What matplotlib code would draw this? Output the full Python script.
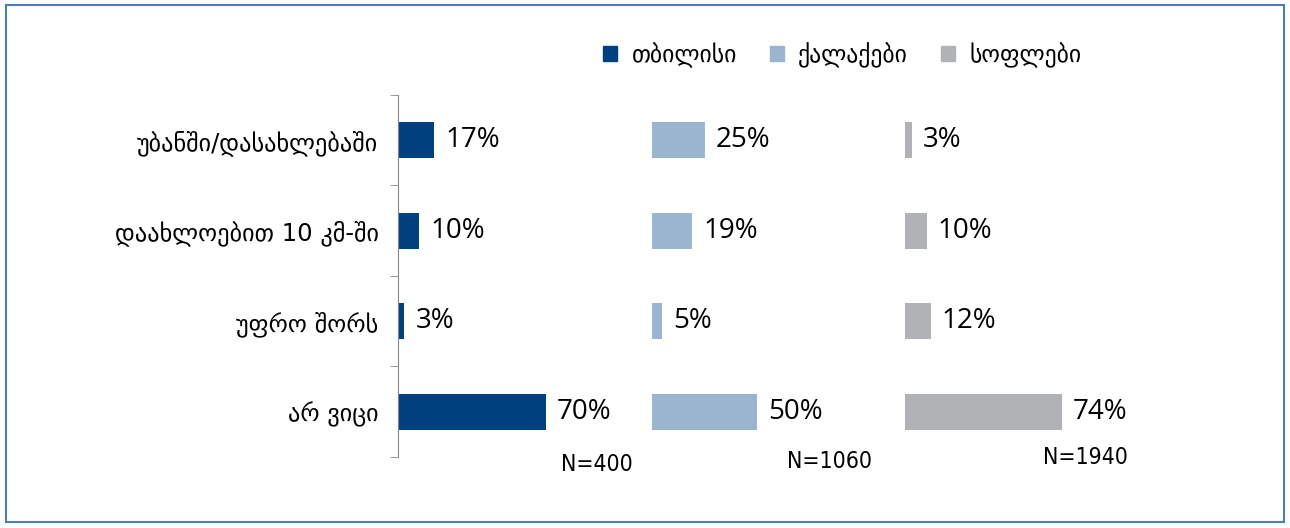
#!/usr/bin/env python3
"""Distance to polling station by settlement type (Tbilisi / cities / villages)."""
import matplotlib
matplotlib.use("Agg")
import matplotlib.pyplot as plt
from matplotlib.patches import Patch, Rectangle

categories = ["უბანში/დასახლებაში", "დაახლოებით 10 კმ-ში", "უფრო შორს", "არ ვიცი"]
groups = ["თბილისი", "ქალაქები", "სოფლები"]
tbilisi = [17, 10, 3, 70]
cities = [25, 19, 5, 50]
villages = [3, 10, 12, 74]
sample_sizes = ["N=400", "N=1060", "N=1940"]

colors = ["#02417F", "#9BB4CF", "#B0B2B5"]
offsets = [0, 120, 240]
n_pos = [(94, 3.58), (204, 3.55), (325, 3.51)]

plt.rcParams["font.family"] = ["DejaVu Sans"]

fig = plt.figure(figsize=(12.9, 5.28), dpi=100)
ax = fig.add_axes([0.3085, 0.1345, 0.59, 0.6856])

ypos = list(range(len(categories)))
for vals, off, col in zip([tbilisi, cities, villages], offsets, colors):
    ax.barh(ypos, vals, left=off, height=0.4, color=col)
    for y, v in zip(ypos, vals):
        ax.annotate(f"{v}%", (off + v, y), xytext=(8, 0), textcoords="offset points",
                    va="center", ha="left", fontsize=20,
                    family=["Open Sans", "DejaVu Sans"])

for (x, y), n in zip(n_pos, sample_sizes):
    ax.text(x, y, n, ha="center", va="center", fontsize=16.5, fontstretch="condensed",
            family=["DejaVu Sans"])

ax.set_xlim(0, 360)
ax.set_ylim(3.5, -0.5)
ax.set_yticks(ypos)
ax.set_yticklabels(categories, fontsize=17.5)
ax.set_yticks([i - 0.5 for i in range(len(categories) + 1)], minor=True)
ax.tick_params(axis="y", which="major", length=0, pad=14)
ax.tick_params(axis="y", which="minor", length=6, color="#888888", direction="out")
ax.set_xticks([])
for side in ["top", "right", "bottom"]:
    ax.spines[side].set_visible(False)
ax.spines["left"].set_color("#888888")

handles = [Patch(color=c, label=g) for c, g in zip(colors, groups)]
fig.legend(handles=handles, loc="center", bbox_to_anchor=(0.653, 0.896), ncol=3,
           frameon=False, fontsize=17, handlelength=0.6, handleheight=0.6,
           handletextpad=0.6, columnspacing=1.4)

fig.patches.append(Rectangle((0.005, 0.011), 0.99, 0.979, transform=fig.transFigure,
                             fill=False, edgecolor="#4A7EBB", linewidth=1.5))

fig.savefig("out.png", dpi=100)
